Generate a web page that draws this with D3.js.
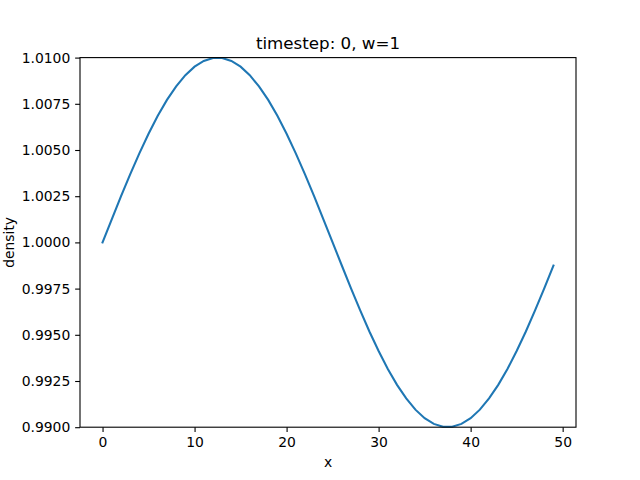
<!DOCTYPE html>
<html>
<head>
<meta charset="utf-8">
<script src="https://cdn.jsdelivr.net/npm/d3@7"></script>
<style>
  body { margin: 0; background: #fff; }
  svg { font-family: "DejaVu Sans", sans-serif; }
</style>
</head>
<body>
<div id="chart"></div>
<script>
var title = 'timestep: 0, w=1',
    xLabel = 'x',
    yLabel = 'density';

var xs = d3.range(0, 50);
var density = [
  1.00000, 1.00125, 1.00249, 1.00368, 1.00482, 1.00588, 1.00685, 1.00771, 1.00844, 1.00905,
  1.00951, 1.00982, 1.00998, 1.00998, 1.00982, 1.00951, 1.00905, 1.00844, 1.00771, 1.00685,
  1.00588, 1.00482, 1.00368, 1.00249, 1.00125, 1.00000, 0.99875, 0.99751, 0.99632, 0.99518,
  0.99412, 0.99315, 0.99229, 0.99156, 0.99095, 0.99049, 0.99018, 0.99002, 0.99002, 0.99018,
  0.99049, 0.99095, 0.99156, 0.99229, 0.99315, 0.99412, 0.99518, 0.99632, 0.99751, 0.99875
];

var xTicks = [0, 10, 20, 30, 40, 50];
var yTicks = [0.99, 0.9925, 0.995, 0.9975, 1.0, 1.0025, 1.005, 1.0075, 1.01];

var width = 640, height = 480,
    margin = {left: 80, right: 64, top: 57.6, bottom: 52.8};

var svg = d3.select('#chart').append('svg')
  .attr('width', width)
  .attr('height', height);

var x = d3.scaleLinear().domain([-2.45, 51.45]).range([margin.left, width - margin.right]);
var y = d3.scaleLinear().domain([0.99, 1.01]).range([height - margin.bottom, margin.top]);

var line = d3.line()
  .x(function(d, i){ return x(xs[i]); })
  .y(function(d){ return y(d); });

svg.append('path')
  .datum(density)
  .attr('fill', 'none')
  .attr('stroke', '#1f77b4')
  .attr('stroke-width', 2.08)
  .attr('stroke-linecap', 'square')
  .attr('d', line);

var xAxis = svg.append('g')
  .attr('transform', 'translate(0,' + (height - margin.bottom) + ')')
  .call(d3.axisBottom(x).tickValues(xTicks).tickSize(4.86).tickPadding(4.86).tickFormat(d3.format('d')));

var yAxis = svg.append('g')
  .attr('transform', 'translate(' + margin.left + ',0)')
  .call(d3.axisLeft(y).tickValues(yTicks).tickSize(4.86).tickPadding(4.86).tickFormat(d3.format('.4f')));

[xAxis, yAxis].forEach(function(g){
  g.select('.domain').remove();
  g.selectAll('.tick line').attr('stroke', '#000').attr('stroke-width', 1.1);
  g.selectAll('.tick text').attr('fill', '#000').style('font-size', '13.9px').style('font-family', '"DejaVu Sans", sans-serif');
});

// frame
svg.append('rect')
  .attr('x', margin.left)
  .attr('y', margin.top)
  .attr('width', width - margin.left - margin.right)
  .attr('height', height - margin.top - margin.bottom)
  .attr('fill', 'none')
  .attr('stroke', '#000')
  .attr('stroke-width', 1.1);

svg.append('text')
  .attr('x', (margin.left + width - margin.right) / 2)
  .attr('y', margin.top - 8.3)
  .attr('text-anchor', 'middle')
  .style('font-size', '16.7px')
  .text(title);

svg.append('text')
  .attr('x', (margin.left + width - margin.right) / 2)
  .attr('y', 467)
  .attr('text-anchor', 'middle')
  .style('font-size', '13.9px')
  .text(xLabel);

svg.append('text')
  .attr('transform', 'translate(14,' + ((margin.top + height - margin.bottom) / 2) + ') rotate(-90)')
  .attr('text-anchor', 'middle')
  .style('font-size', '13.9px')
  .text(yLabel);
</script>
</body>
</html>
